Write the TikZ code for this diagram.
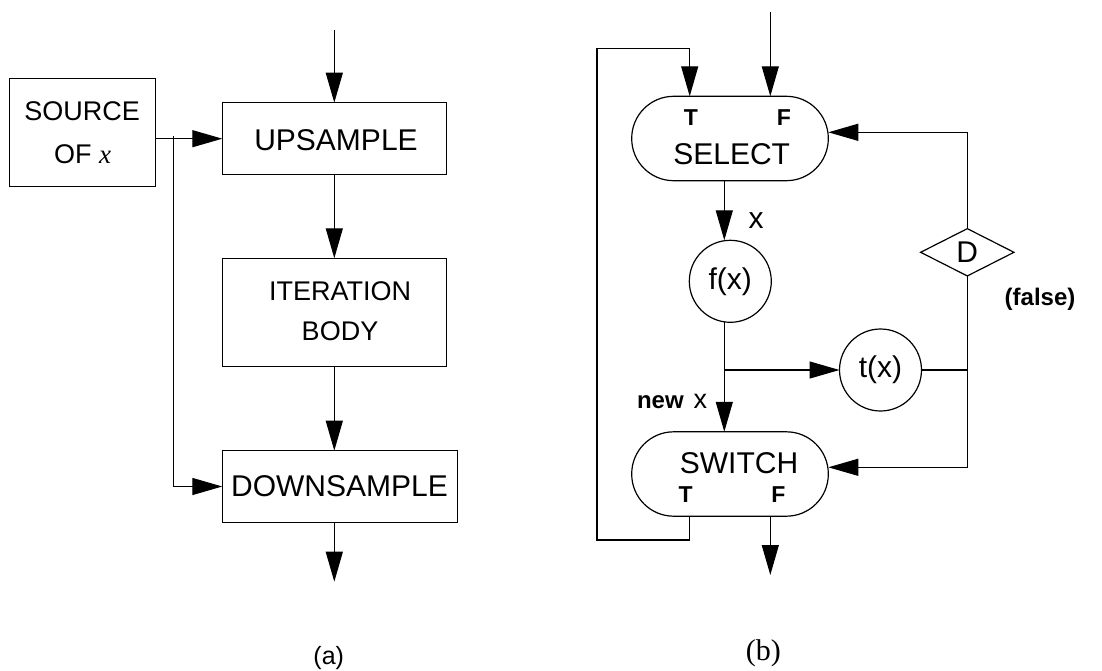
\documentclass[tikz,border=0pt]{standalone}
\usepackage{fontspec}
\setmainfont{Liberation Sans}
\newfontfamily\serifx{Liberation Serif}
\usetikzlibrary{arrows.meta,shapes.geometric,calc}
\begin{document}
\begin{tikzpicture}[x=1pt,y=-1pt,
  every node/.style={inner sep=0pt,outer sep=0pt},
  conn/.style={line width=1.2pt},
  arr/.style={conn,-{Triangle[length=30pt,width=17pt]}},
  box/.style={draw,line width=1.2pt,rectangle},
  pill/.style={draw,line width=1.2pt,rectangle,rounded corners=42pt,minimum width=196.6pt,minimum height=84.4pt},
  circ/.style={draw,line width=1.2pt,circle,minimum size=82pt},
  big/.style={font=\fontsize{30}{36}\selectfont},
  mid/.style={font=\fontsize{27}{33}\selectfont},
  small/.style={font=\fontsize{23}{28}\selectfont\bfseries}
]
\useasboundingbox (0,0) rectangle (1102,671);

% ---------- (a) ----------
\node[box,minimum width=146pt,minimum height=107.3pt] (src) at (82.8,132.5) {};
\node[mid] (srct1) at (82.2,111.7) {SOURCE};
\node[mid,anchor=base] (srct2) at (82.5,163.5) {OF {\serifx\itshape x}};
\node[box,minimum width=224.4pt,minimum height=72pt] (up) at (334.5,138.7) {};
\node[big] (upt) at (336,140) {UPSAMPLE};
\node[box,minimum width=224.4pt,minimum height=108pt] (it) at (334.5,312.3) {};
\node[mid] (itt1) at (340,291.7) {ITERATION};
\node[mid] (itt2) at (340,331) {BODY};
\node[box,minimum width=235.4pt,minimum height=71.6pt] (down) at (340,486.5) {};
\node[big] (downt) at (339.5,486.3) {DOWNSAMPLE};
\node[font=\fontsize{25}{30}\selectfont] (alab) at (328.7,658) {(a)};

\coordinate (ain) at (334.3,30);
\coordinate (aout) at (334.3,581.7);
\coordinate (br) at (173.7,136);
\draw[arr] (ain) -- (ain |- up.north);
\draw[arr] (src.east |- up.west) -- (up.west);
\draw[arr] (br) |- (down.west);
\draw[arr] (ain |- up.south) -- (ain |- it.north);
\draw[arr] (ain |- it.south) -- (ain |- down.north);
\draw[arr] (ain |- down.south) -- (aout);

% ---------- (b) ----------
\node[pill] (sel) at (730,138.5) {};
\node[small] (selT) at (691,117.7) {T};
\node[small] (selF) at (784,117.7) {F};
\node[big] (selt) at (731.7,154.3) {SELECT};
\node[pill] (sw) at (730,474) {};
\node[big] (swt) at (739,462.7) {SWITCH};
\node[small] (swT) at (685.7,495) {T};
\node[small] (swF) at (778.3,495) {F};
\node[circ,big] (f) at (730.3,281.3) {f(x)};
\node[circ,big] (t) at (880.5,370) {t(x)};
\node[draw,line width=1.2pt,diamond,minimum width=93.3pt,minimum height=47.3pt,big] (d) at (967.3,252.3) {D};
\node[big] (xl) at (756,220.7) {x};
\node[font=\fontsize{24}{28}\selectfont,anchor=base west] (newx) at (637,408) {\textbf{new}\hspace{10pt}\fontsize{27}{30}\selectfont x};
\node[font=\fontsize{24}{28}\selectfont\bfseries] (fl) at (1040,299) {(false)};
\node[font=\fontsize{30}{36}\selectfont\serifx] (blab) at (763.3,653.3) {(b)};

\coordinate (bin) at (770.3,12);
\coordinate (bout) at (770.3,575);
\coordinate (tcol) at (689.7,0);
\coordinate (fcol) at (724.3,0);
\coordinate (lpb) at (597,540);
\coordinate (lpt) at (597,48.3);
\draw[arr] (bin) -- (bin |- sel.north);
\draw[arr] (sw.south -| tcol) |- (lpb) |- (tcol |- lpt) -- (tcol |- sel.north);
\draw[arr] (fcol |- sel.south) -- (fcol |- f.north);
\draw[arr] (fcol |- f.south) -- (fcol |- sw.north);
\draw[arr] (fcol |- t.west) -- (t.west);
\draw[conn] (t.east) -- (d.south |- t.east);
\draw[arr] (d.south) |- ($(sw.east)+(0,-6.7)$);
\draw[arr] (d.north) |- ($(sel.east)+(0,-6.2)$);
\draw[arr] (bin |- sw.south) -- (bout);
\end{tikzpicture}
\end{document}
